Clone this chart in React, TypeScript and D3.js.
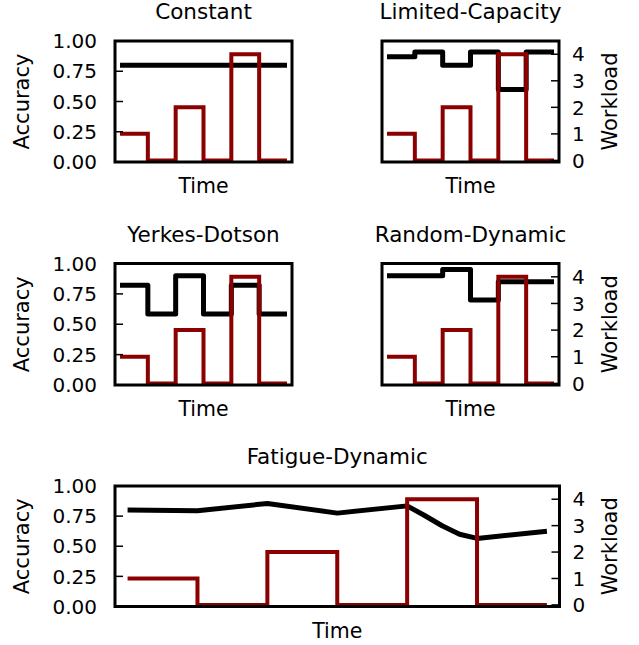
import React from 'react';
import * as d3 from 'd3';

// time steps (segment boundaries) shared by the step panels
const timeSteps = [0, 1, 2, 3, 4, 5, 6];
const workload = [1, 0, 2, 0, 4, 0];

const constantAcc = [0.8, 0.8, 0.8, 0.8, 0.8, 0.8];
const limitedAcc = [0.87, 0.91, 0.8, 0.91, 0.6, 0.91];
const yerkesAcc = [0.82, 0.585, 0.9, 0.585, 0.82, 0.585];
const randomAcc = [0.9, 0.9, 0.95, 0.7, 0.85, 0.85];

// fatigue is a line, not a step
const fatigueTime = [0, 1, 2, 3, 4, 4.25, 4.5, 4.75, 5, 6];
const fatigueAcc = [0.8, 0.795, 0.855, 0.775, 0.835, 0.755, 0.67, 0.6, 0.565, 0.625];

const accTicks = [0, 0.25, 0.5, 0.75, 1];
const workTicks = [0, 1, 2, 3, 4];

const FONT = 'DejaVu Sans';
const RED = '#8b0000';

type Panel = {
  title: string;
  x: number; y: number; w: number; h: number;
  showLeft: boolean; showRight: boolean;
  accX: number[]; acc: number[]; step: boolean;
};

const panels: Panel[] = [
  { title: 'Constant', x: 115, y: 41, w: 177, h: 121, showLeft: true, showRight: false, accX: timeSteps, acc: constantAcc, step: true },
  { title: 'Limited-Capacity', x: 382, y: 41, w: 177, h: 121, showLeft: false, showRight: true, accX: timeSteps, acc: limitedAcc, step: true },
  { title: 'Yerkes-Dotson', x: 115, y: 263.5, w: 177, h: 121.5, showLeft: true, showRight: false, accX: timeSteps, acc: yerkesAcc, step: true },
  { title: 'Random-Dynamic', x: 382, y: 263.5, w: 177, h: 121.5, showLeft: false, showRight: true, accX: timeSteps, acc: randomAcc, step: true },
  { title: 'Fatigue-Dynamic', x: 115, y: 486, w: 444.5, h: 120.5, showLeft: true, showRight: true, accX: fatigueTime, acc: fatigueAcc, step: false },
];

function ChartPanel({ p }: { p: Panel }) {
  const xScale = d3.scaleLinear().domain([-0.18, 6.18]).range([p.x, p.x + p.w]);
  const yAcc = d3.scaleLinear().domain([0, 1]).range([p.y + p.h, p.y]);
  const yWork = d3.scaleLinear().domain([-0.06, 4.5]).range([p.y + p.h, p.y]);

  // repeat last value so the final step has a width
  const stepData = (vals: number[]) => timeSteps.map((t, i) => [t, vals[Math.min(i, vals.length - 1)]] as [number, number]);

  const accLine = d3.line<[number, number]>()
    .x(d => xScale(d[0]))
    .y(d => yAcc(d[1]))
    .curve(p.step ? d3.curveStepAfter : d3.curveLinear);

  const workLine = d3.line<[number, number]>()
    .x(d => xScale(d[0]))
    .y(d => yWork(d[1]))
    .curve(d3.curveStepAfter);

  const accData: [number, number][] = p.step
    ? stepData(p.acc)
    : p.accX.map((t, i) => [t, p.acc[i]]);

  const cx = p.x + p.w / 2;
  const cy = p.y + p.h / 2;
  const right = p.x + p.w;

  return (
    <g>
      <path d={accLine(accData) || ''} fill="none" stroke="black" strokeWidth={5} strokeLinejoin="round" />
      <path d={workLine(stepData(workload)) || ''} fill="none" stroke={RED} strokeWidth={4} />

      {p.showLeft && accTicks.map(t => (
        <g key={'l' + t}>
          <line x1={p.x} x2={p.x + 8} y1={yAcc(t)} y2={yAcc(t)} stroke="black" strokeWidth={1.5} />
          <text x={p.x - 18} y={yAcc(t) + 7.2} textAnchor="end" fontSize={20} fontFamily={FONT}>{t.toFixed(2)}</text>
        </g>
      ))}
      {p.showRight && workTicks.map(t => (
        <g key={'r' + t}>
          <line x1={right - 8} x2={right} y1={yWork(t)} y2={yWork(t)} stroke="black" strokeWidth={1.5} />
          <text x={right + 13} y={yWork(t) + 7.2} textAnchor="start" fontSize={20} fontFamily={FONT}>{t}</text>
        </g>
      ))}

      <rect x={p.x} y={p.y} width={p.w} height={p.h} fill="none" stroke="black" strokeWidth={3} />

      <text x={cx} y={p.y - 22} textAnchor="middle" fontSize={21.5} fontFamily={FONT}>{p.title}</text>
      <text x={cx} y={p.y + p.h + 31} textAnchor="middle" fontSize={20.5} fontFamily={FONT}>Time</text>
      {p.showLeft && (
        <text transform={`translate(29,${cy}) rotate(-90)`} textAnchor="middle" fontSize={21} fontFamily={FONT}>Accuracy</text>
      )}
      {p.showRight && (
        <text transform={`translate(617,${cy}) rotate(-90)`} textAnchor="middle" fontSize={21} fontFamily={FONT}>Workload</text>
      )}
    </g>
  );
}

export default function App() {
  return (
    <svg width={639} height={645} style={{ position: 'absolute', left: 0, top: 0, background: 'white' }}>
      {panels.map(p => <ChartPanel key={p.title} p={p} />)}
    </svg>
  );
}
